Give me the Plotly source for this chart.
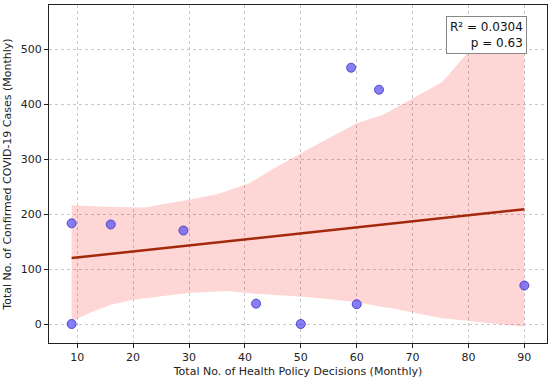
import numpy as np
import plotly.graph_objects as go

# Data
policy_decisions = [9, 9, 16, 29, 42, 50, 59, 60, 64, 90]
confirmed_cases = [183, 0, 181, 170, 37, 0, 466, 36, 426, 70]

# Confidence band
band_upper_x = [9, 15, 22, 29.5, 35, 40.8, 45, 51, 60, 64.6, 70, 75.3, 80.3, 90]
band_upper_y = [216, 213, 212, 225, 236, 256, 282, 316, 365, 380, 410, 440, 498, 498]
band_lower_x = [9, 12.6, 16, 20, 29.5, 36.7, 42, 51, 60, 64.6, 66, 75, 80, 90]
band_lower_y = [5, 22, 35, 44, 56, 60, 55, 49, 40, 31, 29, 11, 5, -5]

x_ticks = [10, 20, 30, 40, 50, 60, 70, 80, 90]
y_ticks = [0, 100, 200, 300, 400, 500]

x = np.array(policy_decisions, dtype=float)
y = np.array(confirmed_cases, dtype=float)
slope, intercept = np.polyfit(x, y, 1)
r2 = np.corrcoef(x, y)[0, 1] ** 2
line_x = np.array([x.min(), x.max()])
line_y = slope * line_x + intercept

font = "DejaVu Sans"
fig = go.Figure()

fig.add_trace(go.Scatter(
    x=band_upper_x + band_lower_x[::-1],
    y=band_upper_y + band_lower_y[::-1],
    fill="toself", fillcolor="rgba(255,0,0,0.16)",
    line=dict(width=0), mode="lines", hoverinfo="skip", showlegend=False))

fig.add_trace(go.Scatter(
    x=policy_decisions, y=confirmed_cases, mode="markers",
    marker=dict(size=9, color="rgba(95,85,240,0.75)",
                line=dict(color="rgba(70,60,200,0.9)", width=1)),
    showlegend=False))

fig.add_trace(go.Scatter(
    x=line_x, y=line_y, mode="lines",
    line=dict(color="#A3280C", width=2.5), showlegend=False))

fig.add_annotation(
    xref="paper", yref="paper", x=0.96, y=0.967,
    xanchor="right", yanchor="top", align="right",
    text=f"R² = {r2:.4f}<br>p = 0.63",
    font=dict(family=font, size=12, color="#111"),
    bgcolor="white", bordercolor="#888", borderwidth=1, borderpad=3,
    showarrow=False)

axis_common = dict(
    showgrid=True, gridcolor="#c8c8c8", griddash="dot", gridwidth=1,
    showline=True, linecolor="#222", linewidth=1, mirror=True,
    ticks="outside", ticklen=4, tickcolor="#222",
    tickfont=dict(family=font, size=11, color="#222"),
    zeroline=False, automargin=False)

fig.update_xaxes(range=[4.95, 94.05], tickvals=x_ticks,
                 title=dict(text="Total No. of Health Policy Decisions (Monthly)",
                            font=dict(family=font, size=11, color="#222"), standoff=4),
                 **axis_common)
fig.update_yaxes(range=[-34.5, 580], tickvals=y_ticks,
                 title=dict(text="Total No. of Confirmed COVID-19 Cases (Monthly)",
                            font=dict(family=font, size=11, color="#222"), standoff=6),
                 **axis_common)

fig.update_layout(
    width=550, height=382,
    margin=dict(l=49, r=3, t=5, b=39),
    plot_bgcolor="white", paper_bgcolor="white",
    font=dict(family=font))

fig.write_html("out.html", config={"displayModeBar": False},
               post_script="document.body.style.margin='0';")
